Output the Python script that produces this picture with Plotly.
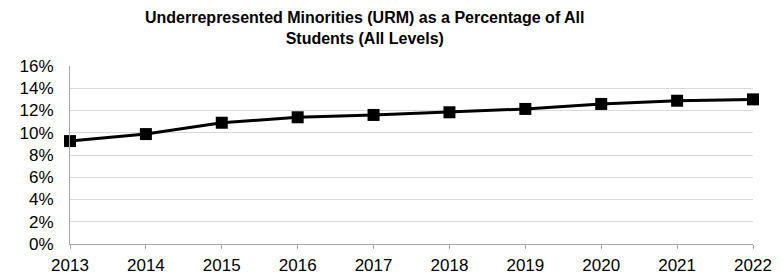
import plotly.graph_objects as go

years = [2013, 2014, 2015, 2016, 2017, 2018, 2019, 2020, 2021, 2022]
urm_pct = [9.25, 9.88, 10.9, 11.39, 11.6, 11.84, 12.14, 12.59, 12.88, 13.0]
y_ticks = [0, 2, 4, 6, 8, 10, 12, 14, 16]
y_tick_labels = [f"{v}%" for v in y_ticks]
title_text = "<b>Underrepresented Minorities (URM) as a Percentage of All<br>Students (All Levels)</b>"

fig = go.Figure()
fig.add_trace(go.Scatter(
    x=years, y=urm_pct, mode="lines+markers",
    line=dict(color="black", width=3),
    marker=dict(symbol="square", size=12, color="black"),
    cliponaxis=False, showlegend=False,
))

font = "Liberation Sans, Arial, sans-serif"
# page body has an 8px default margin, so the figure is sized to fit the 782x274 window
fig.update_layout(
    width=774, height=266,
    margin=dict(l=62, r=29, t=58, b=30, autoexpand=False),
    paper_bgcolor="white", plot_bgcolor="white",
    font=dict(family=font, color="black", size=17),
)
fig.add_annotation(
    text=title_text, xref="paper", yref="paper", x=0.432, y=1.0,
    yshift=58, xanchor="center", yanchor="top", showarrow=False,
    borderpad=0, font=dict(family=font, size=16, color="black"), align="center",
)
fig.update_xaxes(
    range=[2013, 2022], tickvals=years, ticktext=[str(y) for y in years],
    showgrid=False, zeroline=False, showline=True, linecolor="#a6a6a6", linewidth=1,
    ticks="outside", ticklen=4, tickcolor="#a6a6a6", ticklabelstandoff=2,
    tickfont=dict(size=17), automargin=False,
)
fig.update_yaxes(
    range=[0, 16], tickvals=y_ticks, ticktext=y_tick_labels,
    showgrid=True, gridcolor="#d9d9d9", gridwidth=1, zeroline=False,
    showline=True, linecolor="#a6a6a6", linewidth=1, ticks="",
    ticklabelstandoff=12,
    tickfont=dict(size=17), automargin=False,
)
fig.write_html("out.html")
